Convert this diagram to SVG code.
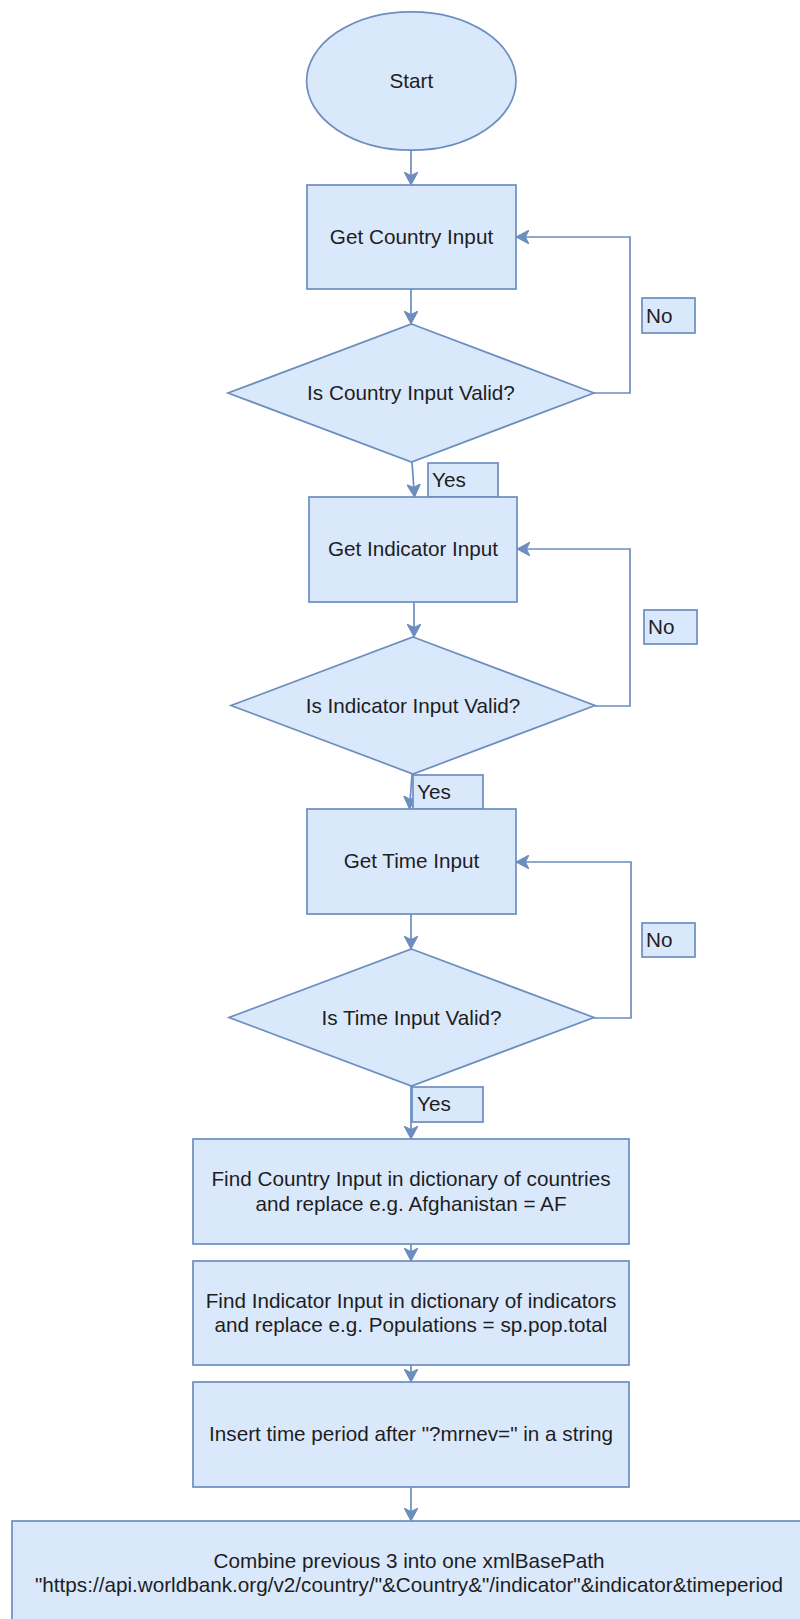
<svg xmlns="http://www.w3.org/2000/svg" width="800" height="1619" viewBox="0 0 800 1619">
<defs>
<style>
.n{fill:#dae8fc;stroke:#6c8ebf;stroke-width:1.7}
.e{fill:none;stroke:#6c8ebf;stroke-width:1.7}
.t{font-family:"Liberation Sans",Arial,sans-serif;font-size:20.7px;fill:#1e1e1e;text-anchor:middle}
.l{font-family:"Liberation Sans",Arial,sans-serif;font-size:20.7px;fill:#1e1e1e}
</style>
<marker id="arr" markerUnits="userSpaceOnUse" markerWidth="14" markerHeight="14" viewBox="0 0 14 14" refX="13" refY="7" orient="auto">
<path d="M13,7 L0,0 L3.5,7 L0,14 Z" fill="#6c8ebf" stroke="#6c8ebf" stroke-width="1"/>
</marker>
</defs>
<rect width="800" height="1619" fill="#ffffff"/>
<g id="connectors">
<path class="e" d="M411,150 L411,185" marker-end="url(#arr)"/>
<path class="e" d="M411,289 L411,324" marker-end="url(#arr)"/>
<path class="e" d="M594,393 L630,393 L630,237 L516,237" marker-end="url(#arr)"/>
<path class="e" d="M412,462 L414.5,497" marker-end="url(#arr)"/>
<path class="e" d="M414,602 L414,637" marker-end="url(#arr)"/>
<path class="e" d="M595,706 L630,706 L630,549 L517,549" marker-end="url(#arr)"/>
<path class="e" d="M412,774 L409.5,809" marker-end="url(#arr)"/>
<path class="e" d="M411,914 L411,949" marker-end="url(#arr)"/>
<path class="e" d="M594,1018 L631,1018 L631,862 L516,862" marker-end="url(#arr)"/>
<path class="e" d="M411,1086 L411,1139" marker-end="url(#arr)"/>
<path class="e" d="M411,1244 L411,1261" marker-end="url(#arr)"/>
<path class="e" d="M411,1365 L411,1382" marker-end="url(#arr)"/>
<path class="e" d="M411,1487 L411,1521" marker-end="url(#arr)"/>
</g>
<g id="start">
<ellipse class="n" cx="411.3" cy="81" rx="104.7" ry="69.2"/>
<text class="t" x="411.3" y="88">Start</text>
</g>
<g id="get-country">
<rect class="n" x="307" y="185" width="209" height="104"/>
<text class="t" x="411.5" y="244">Get Country Input</text>
</g>
<g id="country-valid">
<polygon class="n" points="411.5,324 594,393 411.5,462 228,393"/>
<text class="t" x="411" y="400">Is Country Input Valid?</text>
</g>
<g id="label-no-1">
<rect class="n" x="642" y="298" width="53" height="35"/>
<text class="l" x="646" y="322.5">No</text>
</g>
<g id="label-yes-1">
<rect class="n" x="428" y="463" width="70" height="34"/>
<text class="l" x="432" y="487">Yes</text>
</g>
<g id="get-indicator">
<rect class="n" x="309" y="497" width="208" height="105"/>
<text class="t" x="413" y="556">Get Indicator Input</text>
</g>
<g id="indicator-valid">
<polygon class="n" points="413,637 595,705.5 413,774 231,705.5"/>
<text class="t" x="413" y="712.5">Is Indicator Input Valid?</text>
</g>
<g id="label-no-2">
<rect class="n" x="644" y="610" width="53" height="34"/>
<text class="l" x="648" y="634">No</text>
</g>
<g id="label-yes-2">
<rect class="n" x="413" y="775" width="70" height="34"/>
<text class="l" x="417" y="799">Yes</text>
</g>
<g id="get-time">
<rect class="n" x="307" y="809" width="209" height="105"/>
<text class="t" x="411.5" y="868">Get Time Input</text>
</g>
<g id="time-valid">
<polygon class="n" points="411.5,949 594,1017.5 411.5,1086 229,1017.5"/>
<text class="t" x="411.5" y="1025">Is Time Input Valid?</text>
</g>
<g id="label-no-3">
<rect class="n" x="642" y="923" width="53" height="34"/>
<text class="l" x="646" y="947">No</text>
</g>
<g id="label-yes-3">
<rect class="n" x="412" y="1087" width="71" height="35"/>
<text class="l" x="417" y="1111">Yes</text>
</g>
<g id="find-country">
<rect class="n" x="193" y="1139" width="436" height="105"/>
<text class="t" x="411" y="1186">Find Country Input in dictionary of countries</text>
<text class="t" x="411" y="1210.5">and replace e.g. Afghanistan = AF</text>
</g>
<g id="find-indicator">
<rect class="n" x="193" y="1261" width="436" height="104"/>
<text class="t" x="411" y="1307.5">Find Indicator Input in dictionary of indicators</text>
<text class="t" x="411" y="1332">and replace e.g. Populations = sp.pop.total</text>
</g>
<g id="insert-time">
<rect class="n" x="193" y="1382" width="436" height="105"/>
<text class="t" x="411" y="1441">Insert time period after "?mrnev=" in a string</text>
</g>
<g id="combine">
<rect class="n" x="12" y="1521" width="796" height="103"/>
<text class="t" x="409" y="1567.5">Combine previous 3 into one xmlBasePath</text>
<text class="t" x="409" y="1592">"https://api.worldbank.org/v2/country/"&amp;Country&amp;"/indicator"&amp;indicator&amp;timeperiod</text>
</g>
</svg>
